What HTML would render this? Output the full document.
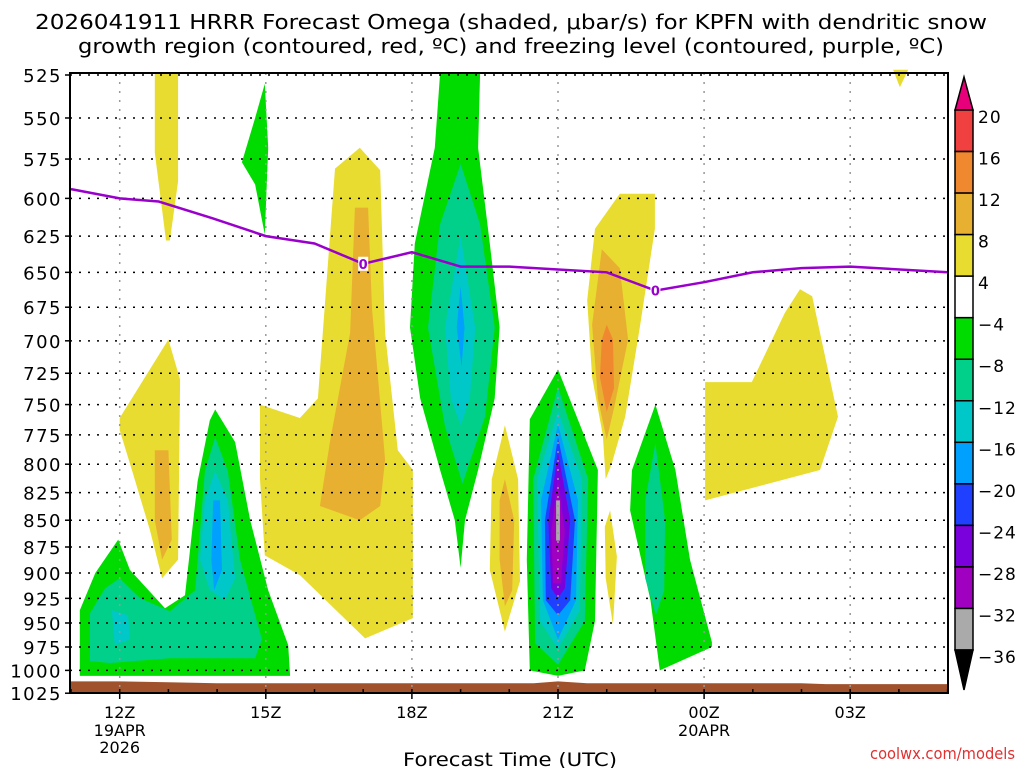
<!DOCTYPE html>
<html><head><meta charset="utf-8"><style>
html,body{margin:0;padding:0;background:#fff;}
svg{display:block;font-family:"DejaVu Sans","Liberation Sans",sans-serif;}
</style></head><body>
<svg id="chart" width="1024" height="768" viewBox="0 0 1024 768" xmlns="http://www.w3.org/2000/svg">
<text x="35" y="29" font-size="20" textLength="952" lengthAdjust="spacingAndGlyphs" fill="#000">2026041911 HRRR Forecast Omega (shaded, μbar/s) for KPFN with dendritic snow</text>
<text x="78" y="53" font-size="20" textLength="866" lengthAdjust="spacingAndGlyphs" fill="#000">growth region (contoured, red, ºC) and freezing level (contoured, purple, ºC)</text>
<g id="fills"></g>
<g id="grid"></g>
<g id="fz"></g>
<g id="axes"></g>
<g id="cbar"></g>
<text x="403" y="766" font-size="19" textLength="214" lengthAdjust="spacingAndGlyphs">Forecast Time (UTC)</text>
<text x="870" y="759" font-size="16" textLength="145" lengthAdjust="spacingAndGlyphs" fill="#e03030">coolwx.com/models</text>
</svg>
<script>
const pLevels=[525,550,575,600,625,650,675,700,725,750,775,800,825,850,875,900,925,950,975,1000,1025];
const timeTicks=[12,15,18,21,24,27];
const timeLabels=["12Z","15Z","18Z","21Z","00Z","03Z"];
const cbLevels=[20,16,12,8,4,-4,-8,-12,-16,-20,-24,-28,-32,-36];
const cbColors=["#f04040","#f08830","#e8b030","#e8dc30","#ffffff","#00dc00","#00d08a","#00c8c8","#00a0ff","#2040ff","#7a00dc","#a000c0","#aaaaaa"];
const levelColor={4:"#e8dc30",8:"#e8b030",12:"#f08830",g:"#00dc00",t:"#00d08a",c:"#00c8c8",lb:"#00a0ff",b:"#2040ff",p:"#7a00dc",m:"#a000c0",gr:"#aaaaaa"};
// shapes: [level, [[hour,hPa],...]]
const shapes=[
[4,[[12.72,524],[13.2,524],[13.2,589],[13.03,628],[12.95,628],[12.72,571]]],
[4,[[12.0,761],[13.0,699],[13.24,730],[13.2,887],[12.87,905],[12.62,859],[12.25,805],[12.0,771]]],
[8,[[12.72,788],[13.0,788],[13.07,868],[12.87,887],[12.72,850]]],
["g",[[11.18,1006],[11.18,937],[11.5,900],[11.97,868],[12.21,897],[12.93,935],[13.34,922],[13.6,815],[13.85,763],[13.96,754],[14.37,781],[14.68,850],[15.05,917],[15.46,973],[15.5,1006]]],
["t",[[11.39,990],[11.39,940],[11.7,915],[12.0,905],[12.42,925],[13.03,938],[13.55,917],[13.75,806],[13.96,777],[14.22,806],[14.47,887],[14.92,967],[14.78,987],[13.03,987],[11.8,992]]],
["c",[[13.65,887],[13.75,832],[13.96,806],[14.22,832],[14.37,905],[14.16,927],[13.85,917]]],
["c",[[11.84,937],[12.17,942],[12.21,967],[11.9,973]]],
["lb",[[13.92,832],[14.06,832],[14.1,897],[13.94,917],[13.88,887]]],
["g",[[14.98,530],[14.78,550],[14.51,577],[14.78,591],[14.98,624],[15.05,568]]],
[4,[[14.88,750],[15.7,761],[16.07,745],[16.42,581],[16.93,568],[17.35,582],[17.45,694],[17.71,788],[18.02,805],[18.02,945],[17.04,966],[15.7,902],[14.98,883],[14.88,813]]],
[8,[[16.83,606],[17.1,606],[17.18,676],[17.45,796],[17.35,837],[16.93,850],[16.11,837],[16.32,780],[16.73,694]]],
["g",[[18.58,524],[19.4,524],[19.36,568],[19.6,630],[19.8,690],[19.7,745],[19.36,805],[19.09,850],[19.0,895],[18.88,850],[18.58,805],[18.17,745],[17.96,690],[18.06,630],[18.47,568]]],
["t",[[19.0,578],[19.4,617],[19.7,690],[19.5,760],[19.04,817],[18.68,768],[18.33,690],[18.58,617]]],
["c",[[19.0,625],[19.3,690],[19.19,745],[19.0,767],[18.8,745],[18.68,690]]],
["lb",[[19.0,660],[19.08,690],[19.02,720],[18.92,690]]],
[4,[[19.91,767],[20.18,813],[20.22,908],[19.91,959],[19.6,897],[19.64,813]]],
[8,[[19.91,813],[20.1,850],[20.06,917],[19.91,933],[19.8,887],[19.8,832]]],
["g",[[21.0,722],[21.82,805],[21.76,948],[21.55,1000],[21.0,1006],[20.42,1000],[20.36,887],[20.42,762]]],
["t",[[21.0,736],[21.62,813],[21.55,948],[21.0,994],[20.53,971],[20.49,813]]],
["c",[[21.0,755],[21.49,813],[21.45,937],[21.0,977],[20.63,948],[20.57,813]]],
["lb",[[21.0,766],[21.41,832],[21.37,927],[21.0,967],[20.69,927],[20.65,832]]],
["b",[[21.0,777],[21.35,850],[21.25,927],[21.0,942],[20.75,927],[20.73,850]]],
["p",[[21.0,790],[21.25,850],[21.14,915],[21.0,925],[20.86,915],[20.8,850]]],
["m",[[21.0,813],[21.14,860],[21.06,910],[20.9,910],[20.86,860]]],
["gr",[[20.96,832],[21.04,832],[21.04,869],[20.96,869]]],
[4,[[21.76,620],[22.27,597],[22.99,597],[22.99,620],[22.68,690],[22.38,760],[22.1,800],[21.98,813],[21.92,775],[21.7,728],[21.6,670]]],
[8,[[21.9,634],[22.27,647],[22.44,699],[22.15,753],[22.0,779],[21.82,745],[21.7,688]]],
[12,[[22.0,688],[22.13,699],[22.15,737],[22.0,756],[21.86,728],[21.9,699]]],
[4,[[22.07,841],[22.21,884],[22.13,952],[21.98,905],[21.96,856]]],
["g",[[23.0,750],[23.41,805],[23.71,887],[24.16,970],[24.16,975],[23.09,1000],[22.9,927],[22.48,841],[22.52,805]]],
["t",[[23.0,782],[23.2,850],[23.18,917],[23.01,942],[22.79,905],[22.79,832]]],
[4,[[24.02,732],[24.98,732],[25.66,679],[25.97,662],[26.22,667],[26.75,760],[26.38,805],[24.02,832]]],
[4,[[27.88,522],[28.19,522],[28.02,532]]]
];
const fzHours=[11,12,12.8,13.9,15,16,17,18,19,20,21,22,23,24,25,26,27,29];
const fzPres=[594,600,602,613,625,630,644,636,646,646,648,650,663,657,650,647,646,650];
const fzLabelHours=[17,23];
const sfcHours=[11,12,13,14,20.5,21,21.6,26,26.5,29];
const sfcPres=[1012,1012,1013,1014,1014,1012,1014,1014,1015,1015];

const X0=71,XH=48.7,Y0=75,YK=924,L=70,R=948,T=73,B=693;
const xs=h=>X0+(h-11)*XH;
const ys=p=>Y0+Math.log(p/525)*YK;
const NS="http://www.w3.org/2000/svg";
function mk(tag,attrs,parent){const e=document.createElementNS(NS,tag);for(const k in attrs)e.setAttribute(k,attrs[k]);parent.appendChild(e);return e;}

const fills=document.getElementById('fills');
shapes.forEach((s,i)=>{
  const pts=s[1].map(q=>xs(q[0]).toFixed(1)+","+ys(q[1]).toFixed(1)).join(" ");
  const e=mk('polygon',{points:pts,fill:levelColor[s[0]],'stroke-linejoin':'round'},fills);
  
  
});
{
  let d="M"+L+","+B;
  sfcHours.forEach((h,i)=>{d+=" L"+Math.max(L,Math.min(R,xs(h))).toFixed(1)+","+ys(sfcPres[i]).toFixed(1);});
  d+=" L"+R+","+B+" Z";
  const g=mk('path',{d:d,fill:"#a0522d"},fills);
  
  
}
const grid=document.getElementById('grid');
pLevels.forEach(p=>{
  const y=ys(p);
  const e=mk('line',{x1:L,x2:R,y1:y,y2:y,stroke:"#000","stroke-width":1.5,"stroke-dasharray":"2,7"},grid);
  
  
});
timeTicks.forEach(h=>{
  const x=xs(h);
  const e=mk('line',{x1:x,x2:x,y1:T,y2:B,stroke:"#999","stroke-width":1.5,"stroke-dasharray":"2,7"},grid);
  
  
});
const fz=document.getElementById('fz');
{
  const pts=fzHours.map((h,i)=>xs(h).toFixed(1)+","+ys(fzPres[i]).toFixed(1)).join(" ");
  const e=mk('polyline',{points:pts,fill:"none",stroke:"#9900cc","stroke-width":2.5},fz);
  
  
  fzLabelHours.forEach(h=>{
    let i=fzHours.findIndex(v=>v>=h);
    let p=fzPres[i];
    if(fzHours[i]!==h){const t=(h-fzHours[i-1])/(fzHours[i]-fzHours[i-1]);p=fzPres[i-1]+t*(fzPres[i]-fzPres[i-1]);}
    const x=xs(h),y=ys(p);
    const b=mk('rect',{x:x-5,y:y-7,width:10,height:14,fill:"#fff"},fz);
    
    
    const t=mk('text',{x:x,y:y+5,"font-size":13,"text-anchor":"middle",fill:"#9900cc","font-weight":"bold"},fz);
    t.textContent="0";
    
    
  });
}
const ax=document.getElementById('axes');
{
  const f=mk('rect',{x:L,y:T,width:R-L,height:B-T,fill:"none",stroke:"#000","stroke-width":2},ax);
  
  
  pLevels.forEach(p=>{
    const y=ys(p);
    const t=mk('text',{x:62,y:y+7,"font-size":18,"text-anchor":"end","letter-spacing":"1.5"},ax);
    t.textContent=p;
    
    
    const tk=mk('line',{x1:L-5,x2:L,y1:y,y2:y,stroke:"#000","stroke-width":1.5},ax);
    
    
  });
  for(let h=11;h<=29;h++){
    const x=xs(h);
    const tk=mk('line',{x1:x,x2:x,y1:B-4,y2:B+(timeTicks.includes(h)?6:0),stroke:"#000","stroke-width":1.5},ax);
    
    
  }
  timeTicks.forEach((h,i)=>{
    const t=mk('text',{x:xs(h),y:718,"font-size":16,"text-anchor":"middle"},ax);
    t.textContent=timeLabels[i];
    
    
  });
  [["19APR",12,736],["2026",12,753],["20APR",24,736]].forEach(a=>{
    const t=mk('text',{x:xs(a[1]),y:a[2],"font-size":16,"text-anchor":"middle"},ax);
    t.textContent=a[0];
    
    
  });
}
const cb=document.getElementById('cbar');
{
  const cx0=955,cx1=973,top=110,step=(650-110)/(cbLevels.length-1);
  const up=mk('polygon',{points:`${cx0},${top} ${cx1},${top} ${(cx0+cx1)/2},77`,fill:"#e8007a",stroke:"#000","stroke-width":1.5},cb);
  
  
  cbColors.forEach((c,i)=>{
    const r=mk('rect',{x:cx0,y:top+i*step,width:cx1-cx0,height:step,fill:c,stroke:"#000","stroke-width":1.5},cb);
    
    
  });
  const dn=mk('polygon',{points:`${cx0},650 ${cx1},650 ${(cx0+cx1)/2},690`,fill:"#000",stroke:"#000","stroke-width":1.5},cb);
  
  
  cbLevels.forEach((v,i)=>{
    const t=mk('text',{x:978,y:top+i*step+13,"font-size":17,"letter-spacing":"1"},cb);
    t.textContent=(v<0?"\u2212"+(-v):v);
    
    
  });
}
</script>
</body></html>
